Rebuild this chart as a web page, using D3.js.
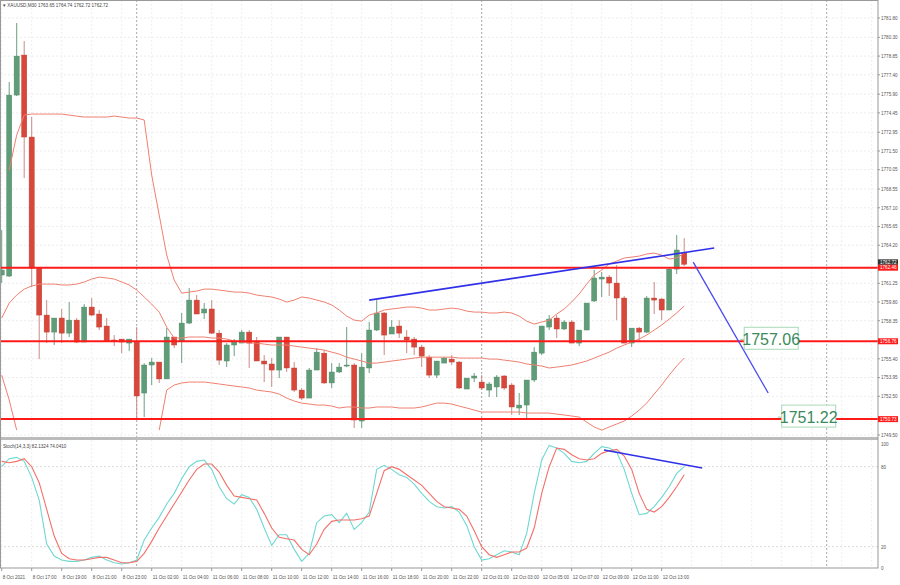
<!DOCTYPE html>
<html><head><meta charset="utf-8">
<script src="https://cdn.jsdelivr.net/npm/d3@7"></script>
<style>body{margin:0;background:#fff}svg{display:block;font-family:"Liberation Sans",Arial,sans-serif}</style>
</head><body><svg id="c" width="900" height="585"></svg>
<script>
const opens=[1761.89,1761.81,1775.83,1778.93,1772.58,1762.43,1758.79,1757.47,1758.56,1757.39,1758.40,1756.70,1759.41,1758.87,1757.94,1756.86,1756.93,1756.62,1756.70,1752.75,1754.92,1755.15,1753.84,1757.09,1756.78,1758.17,1759.95,1758.95,1759.26,1757.39,1755.23,1756.47,1756.62,1757.47,1756.70,1755.23,1755.00,1754.53,1757.09,1754.69,1752.98,1752.36,1754.53,1755.84,1753.53,1754.38,1754.84,1754.92,1750.58,1754.69,1757.63,1758.95,1757.32,1757.94,1757.09,1756.93,1756.31,1755.53,1754.14,1755.07,1755.38,1755.15,1753.06,1753.91,1753.60,1752.98,1753.22,1754.07,1753.37,1751.59,1751.82,1753.76,1755.84,1757.86,1758.56,1757.71,1758.25,1756.62,1757.63,1759.88,1761.58,1761.73,1761.27,1760.11,1756.62,1757.78,1757.47,1760.11,1760.03,1759.18,1762.35,1763.65];
const highs=[1765.37,1776.84,1781.41,1780.02,1774.13,1762.43,1759.95,1758.56,1759.26,1759.80,1758.56,1759.64,1760.11,1759.18,1758.56,1757.24,1756.93,1756.93,1757.86,1755.07,1755.46,1755.15,1757.78,1757.09,1758.95,1760.88,1760.34,1759.72,1759.95,1757.63,1756.62,1756.93,1757.63,1757.63,1757.09,1755.69,1755.46,1757.09,1757.09,1755.15,1753.14,1754.69,1756.23,1756.08,1755.07,1755.07,1757.86,1755.07,1755.84,1758.25,1759.95,1759.02,1758.40,1758.40,1757.63,1757.09,1756.47,1755.69,1755.23,1755.53,1755.69,1755.23,1753.91,1754.30,1754.14,1753.60,1754.14,1754.14,1753.53,1752.75,1753.76,1756.31,1757.94,1758.79,1758.79,1758.40,1758.40,1757.63,1759.72,1762.28,1762.12,1761.89,1762.66,1760.26,1757.78,1757.86,1760.26,1761.35,1760.11,1762.43,1764.99,1764.74];
const lows=[1761.27,1761.73,1775.75,1769.40,1760.96,1755.38,1756.62,1756.47,1756.62,1757.09,1756.62,1756.70,1758.71,1757.63,1756.78,1756.39,1755.84,1756.00,1750.66,1750.89,1753.37,1753.53,1753.84,1756.23,1755.07,1758.09,1758.87,1758.48,1757.32,1754.92,1754.76,1755.61,1756.62,1754.69,1755.23,1753.60,1753.22,1753.91,1754.38,1752.83,1752.21,1752.36,1754.53,1753.45,1753.14,1754.30,1754.76,1750.04,1750.04,1754.30,1757.55,1755.69,1757.32,1757.01,1755.84,1755.69,1754.76,1753.91,1753.91,1755.07,1754.92,1753.06,1753.06,1753.60,1752.98,1752.44,1752.44,1752.98,1751.05,1751.05,1750.66,1753.60,1755.69,1757.63,1757.01,1757.63,1756.62,1756.39,1757.63,1759.80,1760.19,1760.26,1758.40,1756.62,1756.31,1756.70,1757.39,1758.87,1758.40,1759.18,1761.97,1762.59];
const closes=[1762.28,1775.83,1778.85,1772.58,1762.43,1758.79,1757.47,1758.56,1757.39,1758.40,1756.70,1759.41,1758.79,1757.86,1756.78,1756.78,1756.70,1756.93,1752.52,1754.92,1755.15,1753.84,1757.09,1756.47,1758.17,1759.95,1758.87,1759.26,1757.39,1755.30,1756.47,1756.70,1757.47,1756.62,1755.23,1755.00,1754.53,1757.09,1754.69,1752.98,1752.36,1754.53,1755.92,1753.53,1754.38,1754.76,1754.92,1750.66,1754.76,1757.63,1758.95,1757.24,1757.86,1757.39,1756.86,1756.31,1755.61,1754.14,1755.23,1755.46,1755.15,1753.14,1753.91,1754.07,1753.14,1753.45,1753.99,1753.14,1751.67,1751.82,1753.76,1755.92,1757.94,1758.48,1757.71,1758.25,1756.62,1757.63,1759.72,1761.66,1761.73,1761.27,1760.11,1756.62,1757.78,1757.47,1760.11,1759.95,1759.18,1762.35,1763.83,1762.72];
const bbUpper=[null,1770.02,1772.73,1774.28,1774.36,1774.36,1774.36,1774.36,1774.36,1774.28,1774.20,1774.13,1774.13,1774.13,1774.13,1774.20,1774.13,1774.05,1774.05,1773.90,1769.63,1766.54,1763.44,1761.50,1760.49,1760.57,1760.65,1760.80,1760.80,1760.73,1760.65,1760.57,1760.57,1760.49,1760.34,1760.26,1760.19,1760.03,1759.80,1759.95,1760.19,1760.11,1759.95,1759.80,1759.57,1759.18,1758.71,1758.40,1758.32,1758.79,1758.95,1759.18,1759.26,1759.33,1759.41,1759.41,1759.33,1759.18,1759.18,1759.26,1759.33,1759.26,1759.10,1759.02,1759.02,1758.95,1758.95,1759.02,1758.95,1758.71,1758.32,1758.09,1758.25,1758.40,1758.87,1759.26,1759.80,1760.42,1761.19,1761.89,1762.28,1762.74,1762.97,1763.21,1763.28,1763.36,1763.52,1763.59,1763.44,1763.13,1763.21,1763.59];
const bbMiddle=[1758.56,1759.72,1760.34,1760.80,1761.04,1761.19,1761.19,1761.19,1761.12,1761.12,1761.19,1761.35,1761.58,1761.73,1761.66,1761.58,1761.35,1761.12,1760.73,1760.19,1759.64,1759.02,1757.86,1757.01,1757.01,1757.09,1757.09,1757.09,1757.01,1757.01,1756.93,1756.78,1756.70,1756.62,1756.62,1756.54,1756.47,1756.47,1756.47,1756.39,1756.31,1756.23,1756.16,1756.08,1755.92,1755.77,1755.53,1755.38,1755.23,1755.07,1755.07,1755.15,1755.23,1755.30,1755.38,1755.46,1755.53,1755.53,1755.53,1755.53,1755.53,1755.46,1755.46,1755.46,1755.46,1755.38,1755.38,1755.30,1755.23,1755.15,1755.00,1754.92,1754.84,1754.69,1754.76,1754.84,1754.92,1755.07,1755.23,1755.46,1755.69,1755.92,1756.23,1756.47,1756.70,1756.93,1757.24,1757.63,1758.02,1758.48,1758.95,1759.49];
const bbLower=[1754.14,1752.21,1749.88,null,null,null,null,null,null,null,null,null,null,null,null,null,null,null,null,null,null,1749.88,1752.98,1753.37,1753.53,1753.60,1753.60,1753.60,1753.53,1753.45,1753.37,1753.29,1753.22,1753.14,1752.98,1752.90,1752.83,1752.67,1752.36,1752.13,1751.97,1751.90,1751.82,1751.82,1751.74,1751.59,1751.67,1751.67,1751.59,1751.59,1751.67,1751.67,1751.67,1751.59,1751.59,1751.59,1751.67,1751.82,1751.97,1751.97,1751.90,1751.74,1751.59,1751.43,1751.28,1751.28,1751.28,1751.28,1751.28,1751.28,1751.20,1751.20,1751.20,1751.20,1751.12,1751.05,1750.97,1750.89,1750.50,1750.12,1749.88,1750.12,1750.35,1750.58,1750.97,1751.43,1751.97,1752.67,1753.37,1754.14,1754.84,1755.46];
const stochK=[80,86,87,84,72,55,22,13,10,9,9,10,12,13,10,8,7,8,10,25,34,42,52,60,71,80,84,85,78,65,56,52,59,57,48,34,21,29,29,18,9,15,38,43,44,38,45,33,38,46,78,81,78,74,72,67,60,54,50,49,50,46,36,20,10,11,14,17,16,14,30,60,85,96,94,90,84,83,84,90,95,94,91,78,60,44,45,50,57,65,75,80];
const stochD=[84,83,84,86,80,68,48,28,15,11,10,10,11,12,12,10,8,8,9,15,24,34,43,52,61,70,78,82,82,76,66,58,57,56,55,45,34,27,26,25,18,14,22,33,39,40,40,40,41,43,60,77,80,78,74,70,66,60,54,50,49,48,43,32,20,14,12,14,16,16,19,34,60,80,94,93,89,86,85,86,90,92,93,88,78,60,48,46,50,57,65,74];
const timeLabels=["8 Oct 2021","8 Oct 17:00","8 Oct 19:00","8 Oct 21:00","8 Oct 23:00","11 Oct 02:00","11 Oct 04:00","11 Oct 06:00","11 Oct 08:00","11 Oct 10:00","11 Oct 12:00","11 Oct 14:00","11 Oct 16:00","11 Oct 18:00","11 Oct 20:00","11 Oct 22:00","12 Oct 01:00","12 Oct 03:00","12 Oct 05:00","12 Oct 07:00","12 Oct 09:00","12 Oct 11:00","12 Oct 13:00"];
const priceTicks=[1781.80,1780.30,1778.85,1777.40,1775.90,1774.45,1772.95,1771.50,1770.05,1768.55,1767.10,1765.65,1764.20,1761.25,1759.80,1758.35,1755.40,1753.95,1752.50,1749.50];
const levels=[1762.46,1756.76,1750.73];
const stochTicks=[100,80,20,0];
const daySeps=[18,64,110];
const trendUp=[[49,1759.95],[95,1763.98]];
const trendDown=[[92.2,1762.89],[102.2,1752.75]];
const stochTrend=[[80.3,92.5],[93.4,79]];
const targets=[{v:"1757.06",i:99,p:1756.76},{v:"1751.22",i:104,p:1750.73}];

const svg=d3.select("#c");
const R=878, mainTop=0, mainBot=437, sTop=440, sBot=568;
const x=d3.scaleLinear().domain([0,1]).range([1.7,9.2]);
const y=d3.scaleLinear().domain([1749.5,1781.8]).range([435,18]);
const ys=d3.scaleLinear().domain([20,80]).range([546.7,466.7]);
const idx=d3.range(opens.length);

const g=svg.append("g");
svg.append("clipPath").attr("id","cm").append("rect").attr("x",0).attr("y",mainTop).attr("width",R).attr("height",mainBot-mainTop);
svg.append("clipPath").attr("id","cs").append("rect").attr("x",0).attr("y",sTop).attr("width",R).attr("height",sBot-sTop);
priceTicks.forEach(p=>g.append("line").attr("x1",0).attr("x2",R).attr("y1",y(p)).attr("y2",y(p)).attr("stroke","#ececec").attr("stroke-dasharray","2,2"));
d3.range(0,150,4).forEach(i=>{g.append("line").attr("x1",x(i)).attr("x2",x(i)).attr("y1",0).attr("y2",mainBot).attr("stroke","#eeeeee").attr("stroke-dasharray","2,2");
 g.append("line").attr("x1",x(i)).attr("x2",x(i)).attr("y1",sTop).attr("y2",sBot).attr("stroke","#eeeeee").attr("stroke-dasharray","2,2");});
[80,20].forEach(v=>g.append("line").attr("x1",0).attr("x2",R).attr("y1",ys(v)).attr("y2",ys(v)).attr("stroke","#d8d8d8").attr("stroke-dasharray","2,2"));
daySeps.forEach(i=>{[[0,mainBot],[sTop,sBot]].forEach(([a,b])=>g.append("line").attr("x1",x(i)).attr("x2",x(i)).attr("y1",a).attr("y2",b).attr("stroke","#a8a8a8").attr("stroke-dasharray","2,2"));});

const cg=svg.append("g").attr("clip-path","url(#cm)");
const up="#5e9d77", dn="#d9473b";
idx.forEach(i=>{const c=closes[i]>=opens[i]?up:dn;
 cg.append("line").attr("x1",x(i)).attr("x2",x(i)).attr("y1",y(highs[i])).attr("y2",y(lows[i])).attr("stroke",closes[i]>=opens[i]?"#6a9f80":"#c98a86").attr("stroke-width",1);
 const t=y(Math.max(opens[i],closes[i])), b=y(Math.min(opens[i],closes[i]));
 cg.append("rect").attr("x",x(i)-2.6).attr("width",5.2).attr("y",t).attr("height",Math.max(1,b-t)).attr("fill",c).attr("stroke",d3.color(c).darker(0.4)).attr("stroke-width",0.4);});

const ln=d3.line().defined(d=>d[1]!=null).x(d=>x(d[0])).y(d=>y(d[1]));
[bbUpper,bbMiddle,bbLower].forEach(a=>cg.append("path").attr("d",ln(a.map((v,i)=>[i,v]))).attr("fill","none").attr("stroke","#f08070").attr("stroke-width",1));

levels.forEach(p=>svg.append("line").attr("x1",0).attr("x2",R).attr("y1",y(p)).attr("y2",y(p)).attr("stroke","#ff1a1a").attr("stroke-width",2));
const tl=d3.line().x(d=>x(d[0])).y(d=>y(d[1]));
svg.append("path").attr("d",tl(trendUp)).attr("stroke","#3030e8").attr("stroke-width",1.6).attr("fill","none");
svg.append("path").attr("d",tl(trendDown)).attr("stroke","#4a4af0").attr("stroke-width",1.3).attr("fill","none");
targets.forEach(t=>{const tx=x(t.i), ty=y(t.p);
 const w=54,h=22;
 svg.append("line").attr("x1",tx-4).attr("x2",tx).attr("y1",ty-2).attr("y2",ty-2).attr("stroke","#9ccfae");
 svg.append("rect").attr("x",tx).attr("y",ty-14).attr("width",w).attr("height",h).attr("fill","#fff").attr("stroke","#a8d8b8").attr("stroke-width",1);
 svg.append("text").attr("x",tx+w/2).attr("y",ty+3.5).attr("text-anchor","middle").attr("font-size",16).attr("fill","#3a8a5c").text(t.v);});

svg.append("rect").attr("x",0).attr("y",mainBot).attr("width",R).attr("height",sTop-mainBot).attr("fill","#bcbcbc");
svg.append("rect").attr("x",0.5).attr("y",0.5).attr("width",R-0.5).attr("height",sBot-0.5).attr("fill","none").attr("stroke","#999");

const sg=svg.append("g").attr("clip-path","url(#cs)");
const sl=d3.line().x(d=>x(d[0])).y(d=>ys(d[1]));
sg.append("path").attr("d",sl(stochK.map((v,i)=>[i,v]))).attr("fill","none").attr("stroke","#6fd8d0").attr("stroke-width",1.1);
sg.append("path").attr("d",sl(stochD.map((v,i)=>[i,v]))).attr("fill","none").attr("stroke","#f2706a").attr("stroke-width",1.1);
svg.append("path").attr("d",sl(stochTrend)).attr("stroke","#3030e8").attr("stroke-width",1.6).attr("fill","none");

const fs=4.6, tc="#555";
priceTicks.forEach(p=>{svg.append("line").attr("x1",R).attr("x2",R+2).attr("y1",y(p)).attr("y2",y(p)).attr("stroke","#999");
 svg.append("text").attr("x",R+3).attr("y",y(p)+1.8).attr("font-size",fs).attr("fill",tc).text(p.toFixed(2));});
svg.append("rect").attr("x",R).attr("y",y(1762.72)-5).attr("width",20).attr("height",5.5).attr("fill","#333");
svg.append("text").attr("x",R+2).attr("y",y(1762.72)-0.8).attr("font-size",fs).attr("fill","#fff").text("1762.72");
levels.forEach(p=>{svg.append("rect").attr("x",R).attr("y",y(p)-3).attr("width",20).attr("height",6).attr("fill","#ff1a1a");
 svg.append("text").attr("x",R+2).attr("y",y(p)+1.7).attr("font-size",fs).attr("fill","#fff").text(p.toFixed(2));});
stochTicks.forEach(v=>{const yy=Math.min(Math.max(ys(v),sTop+4),sBot);
 svg.append("text").attr("x",R+3).attr("y",yy+2).attr("font-size",fs).attr("fill",tc).text(v);});
timeLabels.forEach((t,k)=>{const xx=x(k*4);
 svg.append("line").attr("x1",xx).attr("x2",xx).attr("y1",sBot).attr("y2",sBot+3).attr("stroke","#999");
 svg.append("text").attr("x",xx+1).attr("y",sBot+11).attr("font-size",fs).attr("fill",tc).text(t);});
svg.append("text").attr("x",3).attr("y",7).attr("font-size",fs).attr("fill","#444").text("▾ XAUUSD,M30  1763.65 1764.74 1762.72 1762.72");
svg.append("text").attr("x",3).attr("y",sTop+8).attr("font-size",fs).attr("fill","#444").text("Stoch(14,3,3) 82.1324 74.0410");
</script></body></html>
